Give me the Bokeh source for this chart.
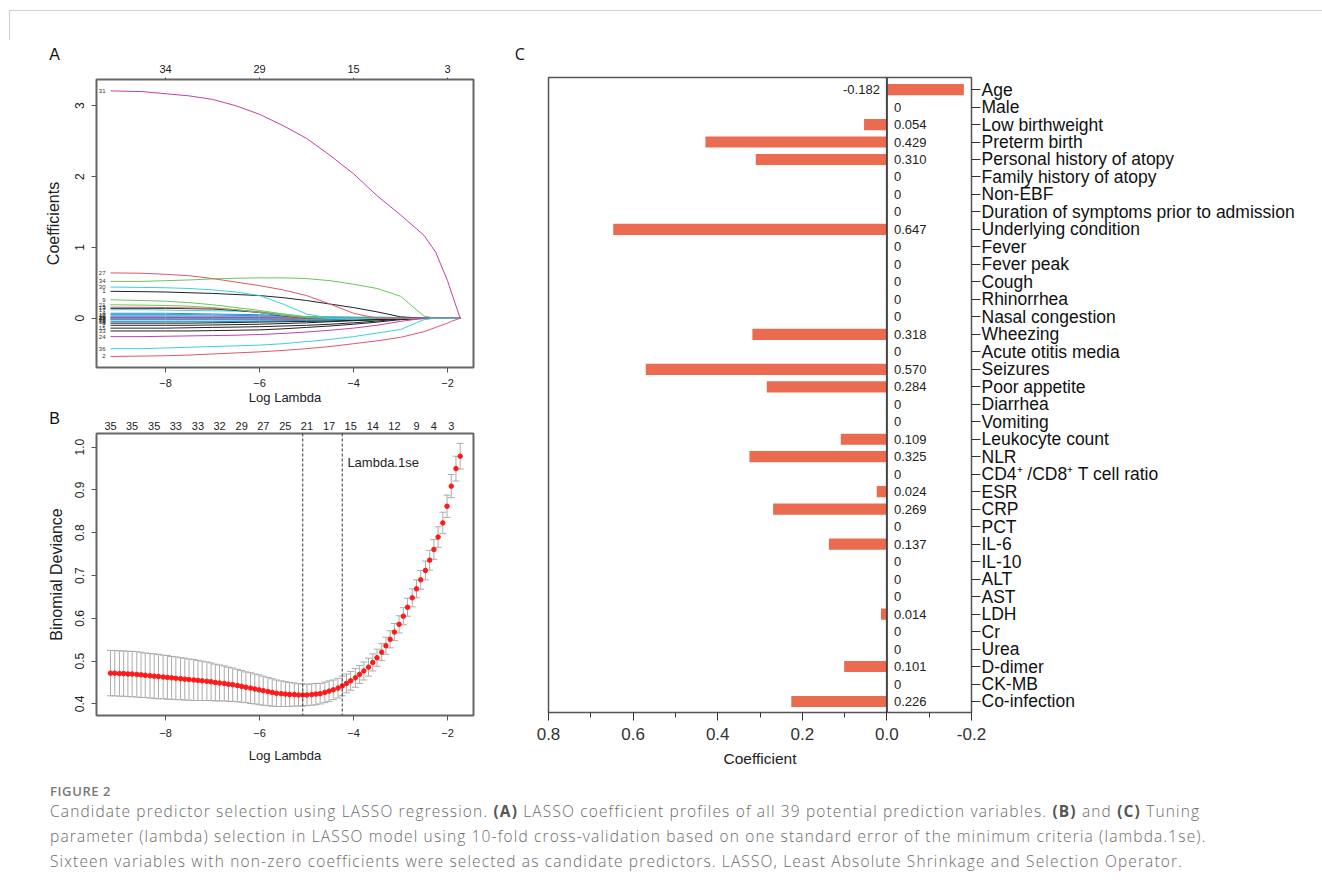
import math
from bokeh.plotting import figure
from bokeh.models import (Range1d, LinearAxis, FixedTicker, Span, Label, Whisker,
                          TeeHead, ColumnDataSource, Div, NumeralTickFormatter)
from bokeh.layouts import column, row
from bokeh.embed import file_html
from bokeh.resources import INLINE
from bokeh.core.properties import value

FONT = "Liberation Sans"

# ---------------- Panel A : LASSO coefficient profiles ----------------
A_log_lambda = [-9.17, -8.5, -8.0, -7.5, -7.0, -6.5, -6.0, -5.5, -5.0, -4.5,
                -4.0, -3.5, -3.0, -2.5, -2.25, -2.0, -1.9, -1.73]
A_x_ticks = [-8, -6, -4, -2]
A_x_labels = ["\u22128", "\u22126", "\u22124", "\u22122"]
A_top_labels = ["34", "29", "15", "3"]
A_y_ticks = [0, 1, 2, 3]

coef_19 = [0, 0, 0, 0, 0, 0, 0, 0, 0, 0, 0, 0, 0, 0, 0, 0, 0, 0]
coef_23 = [0, 0, 0, 0, 0, 0, 0, 0, 0, 0, 0, 0, 0, 0, 0, 0, 0, 0]
coef_16 = [0.02, 0.02, 0.02, 0.02, 0.02, 0.02, 0.02, 0.02, 0.02, 0.02, 0.015, 0.015, 0.01, 0.005, 0, 0, 0, 0]
coef_22 = [0.01, 0.01, 0.01, 0.01, 0.01, 0.01, 0.01, 0.01, 0.005, 0, 0, 0, 0, 0, 0, 0, 0, 0]
coef_3 = [-0.01, -0.01, -0.01, -0.01, -0.01, -0.01, -0.01, -0.005, 0, 0, 0, 0, 0, 0, 0, 0, 0, 0]
coef_28 = [-0.02, -0.02, -0.02, -0.02, -0.02, -0.02, -0.02, -0.02, -0.015, -0.015, -0.01, -0.01, -0.005, 0, 0, 0, 0, 0]
coef_35 = [-0.04, -0.04, -0.04, -0.04, -0.04, -0.04, -0.04, -0.035, -0.035, -0.03, -0.03, -0.025, -0.02, -0.01, 0, 0, 0, 0]
coef_14 = [-0.05, -0.05, -0.05, -0.05, -0.05, -0.045, -0.04, -0.035, -0.03, -0.02, -0.01, 0, 0, 0, 0, 0, 0, 0]
coef_11 = [0.035, 0.035, 0.035, 0.035, 0.03, 0.03, 0.025, 0.02, 0.02, 0.015, 0.01, 0.005, 0, 0, 0, 0, 0, 0]
coef_10 = [0.05, 0.05, 0.05, 0.05, 0.045, 0.04, 0.035, 0.03, 0.02, 0.01, 0, 0, 0, 0, 0, 0, 0, 0]
coef_4 = [0.07, 0.07, 0.07, 0.065, 0.06, 0.055, 0.05, 0.035, 0.015, 0, 0, 0, 0, 0, 0, 0, 0, 0]
coef_8 = [-0.07, -0.07, -0.07, -0.07, -0.065, -0.06, -0.055, -0.05, -0.045, -0.04, -0.03, -0.02, -0.01, 0, 0, 0, 0, 0]
coef_7 = [-0.10, -0.10, -0.10, -0.10, -0.095, -0.09, -0.085, -0.075, -0.065, -0.05, -0.035, -0.02, 0, 0, 0, 0, 0, 0]
coef_15 = [-0.14, -0.14, -0.14, -0.135, -0.13, -0.125, -0.12, -0.11, -0.10, -0.085, -0.065, -0.04, -0.01, 0, 0, 0, 0, 0]
coef_33 = [-0.18, -0.18, -0.18, -0.18, -0.175, -0.17, -0.165, -0.15, -0.13, -0.11, -0.085, -0.055, -0.02, 0, 0, 0, 0, 0]
coef_17 = [0.12, 0.12, 0.115, 0.11, 0.105, 0.10, 0.09, 0.06, 0.02, 0, 0, 0, 0, 0, 0, 0, 0, 0]
coef_13 = [0.14, 0.14, 0.14, 0.135, 0.13, 0.11, 0.08, 0.035, 0, 0, 0, 0, 0, 0, 0, 0, 0, 0]
coef_5 = [0.155, 0.155, 0.15, 0.145, 0.14, 0.12, 0.09, 0.04, 0, 0, 0, 0, 0, 0, 0, 0, 0, 0]
coef_21 = [0.19, 0.185, 0.18, 0.17, 0.15, 0.12, 0.08, 0.04, 0.01, 0, 0, 0, 0, 0, 0, 0, 0, 0]
coef_9 = [0.26, 0.25, 0.24, 0.22, 0.19, 0.15, 0.11, 0.06, 0.02, 0, 0, 0, 0, 0, 0, 0, 0, 0]
coef_1 = [0.38, 0.375, 0.37, 0.36, 0.35, 0.335, 0.32, 0.29, 0.25, 0.20, 0.15, 0.09, 0.02, 0, 0, 0, 0, 0]
coef_30 = [0.44, 0.435, 0.43, 0.42, 0.40, 0.37, 0.32, 0.20, 0.06, 0, 0, 0, 0, 0, 0, 0, 0, 0]
coef_34 = [0.52, 0.52, 0.53, 0.54, 0.555, 0.565, 0.57, 0.57, 0.56, 0.53, 0.48, 0.42, 0.31, 0.03, 0, 0, 0, 0]
coef_27 = [0.64, 0.635, 0.62, 0.60, 0.56, 0.51, 0.46, 0.40, 0.32, 0.20, 0.07, 0, 0, 0, 0, 0, 0, 0]
coef_24 = [-0.26, -0.26, -0.255, -0.25, -0.245, -0.24, -0.23, -0.215, -0.195, -0.17, -0.14, -0.10, -0.045, 0, 0, 0, 0, 0]
coef_36 = [-0.43, -0.43, -0.42, -0.41, -0.40, -0.39, -0.38, -0.36, -0.33, -0.30, -0.26, -0.21, -0.16, -0.02, 0, 0, 0, 0]
coef_2 = [-0.54, -0.535, -0.53, -0.52, -0.505, -0.49, -0.475, -0.455, -0.43, -0.40, -0.36, -0.32, -0.27, -0.19, -0.13, -0.07, -0.04, 0]
coef_31 = [3.21, 3.20, 3.17, 3.14, 3.09, 3.00, 2.88, 2.72, 2.54, 2.30, 2.04, 1.73, 1.46, 1.17, 0.93, 0.53, 0.33, 0.0]

BLACK, RED, GREEN, BLUE, CYAN, MAGENTA = "#222222", "#E0566E", "#6CC55A", "#2E8FD8", "#3CCFE0", "#C63FA8"
A_paths = [
    ("19", BLUE, coef_19), ("23", CYAN, coef_23), ("16", BLUE, coef_16), ("22", MAGENTA, coef_22),
    ("3", RED, coef_3), ("28", BLUE, coef_28), ("35", CYAN, coef_35), ("14", BLUE, coef_14),
    ("11", CYAN, coef_11), ("10", BLUE, coef_10), ("4", BLUE, coef_4), ("8", BLACK, coef_8),
    ("7", BLACK, coef_7), ("15", BLACK, coef_15), ("33", BLACK, coef_33), ("17", CYAN, coef_17),
    ("13", BLACK, coef_13), ("5", RED, coef_5), ("21", GREEN, coef_21), ("9", GREEN, coef_9),
    ("1", BLACK, coef_1), ("30", CYAN, coef_30), ("34", GREEN, coef_34), ("27", RED, coef_27),
    ("24", MAGENTA, coef_24), ("36", CYAN, coef_36), ("2", RED, coef_2), ("31", MAGENTA, coef_31),
]

# ---------------- Panel B : cross-validation curve ----------------
B_log_lambda = [-9.17, -9.08, -8.98, -8.89, -8.80, -8.71, -8.61, -8.52, -8.43, -8.33,
                -8.24, -8.15, -8.05, -7.96, -7.87, -7.78, -7.68, -7.59, -7.50, -7.40,
                -7.31, -7.22, -7.12, -7.03, -6.94, -6.85, -6.75, -6.66, -6.57, -6.47,
                -6.38, -6.29, -6.19, -6.10, -6.01, -5.92, -5.82, -5.73, -5.64, -5.54,
                -5.45, -5.36, -5.26, -5.17, -5.08, -4.99, -4.89, -4.80, -4.71, -4.61,
                -4.52, -4.43, -4.33, -4.24, -4.15, -4.06, -3.96, -3.87, -3.78, -3.68,
                -3.59, -3.50, -3.40, -3.31, -3.22, -3.13, -3.03, -2.94, -2.85, -2.75,
                -2.66, -2.57, -2.47, -2.38, -2.29, -2.20, -2.10, -2.01, -1.92, -1.82, -1.73]
B_deviance = [0.472, 0.472, 0.471, 0.471, 0.470, 0.470, 0.469, 0.468, 0.467, 0.466,
              0.465, 0.464, 0.463, 0.462, 0.461, 0.460, 0.459, 0.458, 0.457, 0.456,
              0.455, 0.454, 0.453, 0.452, 0.450, 0.449, 0.448, 0.446, 0.445, 0.443,
              0.441, 0.439, 0.437, 0.435, 0.433, 0.431, 0.429, 0.427, 0.425, 0.424,
              0.423, 0.422, 0.422, 0.421, 0.421, 0.421, 0.422, 0.423, 0.424, 0.427,
              0.430, 0.433, 0.437, 0.442, 0.448, 0.454, 0.461, 0.469, 0.477, 0.486,
              0.497, 0.508, 0.521, 0.536, 0.551, 0.568, 0.586, 0.605, 0.626, 0.648,
              0.669, 0.690, 0.712, 0.736, 0.761, 0.790, 0.823, 0.862, 0.909, 0.950, 0.979]
B_se = [0.053, 0.053, 0.053, 0.053, 0.053, 0.053, 0.053, 0.053, 0.052, 0.052, 0.052, 0.052,
        0.051, 0.051, 0.050, 0.050, 0.049, 0.049, 0.048, 0.048, 0.047, 0.046, 0.045, 0.044,
        0.043, 0.042, 0.041, 0.040, 0.039, 0.038, 0.037, 0.036, 0.036, 0.035, 0.035, 0.034,
        0.033, 0.032, 0.031, 0.030, 0.029, 0.028, 0.027, 0.026, 0.026, 0.025, 0.025, 0.025,
        0.024, 0.024, 0.024, 0.023, 0.023, 0.023, 0.022, 0.022, 0.022, 0.021, 0.021, 0.021,
        0.020, 0.020, 0.020, 0.020, 0.020, 0.020, 0.020, 0.020, 0.021, 0.021, 0.021, 0.022,
        0.022, 0.023, 0.023, 0.024, 0.025, 0.026, 0.027, 0.029, 0.030]
B_top_ticks = [-9.17, -8.71, -8.24, -7.78, -7.31, -6.85, -6.38, -5.92, -5.45, -4.99,
               -4.52, -4.06, -3.59, -3.13, -2.66, -2.29, -1.92]
B_top_labels = ["35", "35", "35", "33", "33", "32", "29", "27", "25", "21",
                "17", "15", "14", "12", "9", "4", "3"]
B_y_ticks = [0.4, 0.5, 0.6, 0.7, 0.8, 0.9, 1.0]
lambda_min = -5.08
lambda_1se = -4.24

# ---------------- Panel C : coefficients ----------------
C_variables = ["Age", "Male", "Low birthweight", "Preterm birth", "Personal history of atopy",
               "Family history of atopy", "Non-EBF", "Duration of symptoms prior to admission",
               "Underlying condition", "Fever", "Fever peak", "Cough", "Rhinorrhea",
               "Nasal congestion", "Wheezing", "Acute otitis media", "Seizures", "Poor appetite",
               "Diarrhea", "Vomiting", "Leukocyte count", "NLR",
               "CD4\u207A /CD8\u207A T cell ratio", "ESR", "CRP", "PCT", "IL-6", "IL-10", "ALT",
               "AST", "LDH", "Cr", "Urea", "D-dimer", "CK-MB", "Co-infection"]
C_coefficients = [-0.182, 0, 0.054, 0.429, 0.310, 0, 0, 0, 0.647, 0, 0, 0, 0, 0, 0.318, 0,
                  0.570, 0.284, 0, 0, 0.109, 0.325, 0, 0.024, 0.269, 0, 0.137, 0, 0, 0,
                  0.014, 0, 0, 0.101, 0, 0.226]
C_x_ticks = [0.8, 0.6, 0.4, 0.2, 0.0, -0.2]
C_x_minor = [0.7, 0.5, 0.3, 0.1, -0.1]
BAR = "#EB6B50"
FRAME = "#666666"


def style_axis(ax, size="11px", title_size="13px"):
    ax.axis_line_color = None
    ax.major_tick_line_color = "#555555"
    ax.major_tick_in = 0
    ax.major_tick_out = 5
    ax.minor_tick_line_color = None
    ax.major_label_text_font = FONT
    ax.major_label_text_font_size = size
    ax.major_label_text_color = "#222222"
    ax.axis_label_text_font = FONT
    ax.axis_label_text_font_style = "normal"
    ax.axis_label_text_font_size = title_size
    ax.axis_label_text_color = "#222222"


def letter(p, x, y, t, font=FONT):
    p.add_layout(Label(x=x, y=y, text=t, text_align="center", text_baseline="middle",
                       text_font=font, text_font_size="16px", text_color="#111111"), "left")


# ----- Figure A -----
pA = figure(width=500, height=367, title=None, output_backend="svg", toolbar_location=None,
            x_range=Range1d(-9.468, -1.447), y_range=Range1d(-0.696, 3.371),
            min_border_left=96, min_border_right=27, min_border_top=39, min_border_bottom=40)
pA.grid.visible = False
pA.outline_line_color = FRAME
pA.outline_line_width = 2
xa = pA.xaxis[0]
style_axis(xa, "11px", "13px")
xa.ticker = FixedTicker(ticks=A_x_ticks)
xa.major_label_overrides = dict(zip(A_x_ticks, A_x_labels))
xa.major_label_standoff = 6
xa.axis_label = "Log Lambda"
xa.axis_label_standoff = 0
ya = pA.yaxis[0]
style_axis(ya, "12px", "16px")
ya.ticker = FixedTicker(ticks=A_y_ticks)
ya.major_label_orientation = "vertical"
ya.major_label_standoff = 7
ya.axis_label = "Coefficients"
ya.axis_label_standoff = 11
topA = LinearAxis(ticker=FixedTicker(ticks=A_x_ticks),
                  major_label_overrides=dict(zip(A_x_ticks, A_top_labels)))
style_axis(topA, "11px")
topA.major_tick_out = 2
topA.major_label_standoff = 5
pA.add_layout(topA, "above")

for lbl, col, vals in A_paths:
    pA.line(A_log_lambda, vals, line_color=col, line_width=1)
pA.text(x=[A_log_lambda[0]] * len(A_paths), y=[v[0] for _, _, v in A_paths],
        text=[lbl for lbl, _, _ in A_paths], text_align="right", text_baseline="middle",
        x_offset=-5, text_font_size="6px", text_font=value(FONT), text_color="#333333")
letter(pA, -10.36, 3.73, "A")

# ----- Figure B -----
pB = figure(width=500, height=368, title=None, output_backend="svg", toolbar_location=None,
            x_range=Range1d(-9.468, -1.447), y_range=Range1d(0.373, 1.032),
            min_border_left=96, min_border_right=27, min_border_top=26, min_border_bottom=60)
pB.grid.visible = False
pB.outline_line_color = FRAME
pB.outline_line_width = 2
xb = pB.xaxis[0]
style_axis(xb, "11px", "13px")
xb.ticker = FixedTicker(ticks=A_x_ticks)
xb.major_label_overrides = dict(zip(A_x_ticks, A_x_labels))
xb.major_label_standoff = 8
xb.axis_label = "Log Lambda"
xb.axis_label_standoff = 8
yb = pB.yaxis[0]
style_axis(yb, "12px", "16px")
yb.ticker = FixedTicker(ticks=B_y_ticks)
yb.formatter = NumeralTickFormatter(format="0.0")
yb.major_label_orientation = "vertical"
yb.major_label_standoff = 7
yb.axis_label = "Binomial Deviance"
yb.axis_label_standoff = 8
topB = LinearAxis(ticker=FixedTicker(ticks=B_top_ticks),
                  major_label_overrides=dict(zip(B_top_ticks, B_top_labels)))
style_axis(topB, "11px")
topB.major_tick_out = 0
topB.major_tick_line_color = None
topB.major_label_standoff = 4
pB.add_layout(topB, "above")

srcB = ColumnDataSource(dict(
    x=B_log_lambda, y=B_deviance,
    lower=[d - s for d, s in zip(B_deviance, B_se)],
    upper=[d + s for d, s in zip(B_deviance, B_se)]))
GREY = "#ababab"
pB.add_layout(Whisker(source=srcB, base="x", lower="lower", upper="upper", dimension="height",
                      line_color=GREY, line_width=1,
                      lower_head=TeeHead(size=7, line_color=GREY, line_width=1),
                      upper_head=TeeHead(size=7, line_color=GREY, line_width=1)))
pB.scatter("x", "y", source=srcB, size=4.5, fill_color="#FF1A1A", line_color="#FF1A1A")
for loc in (lambda_min, lambda_1se):
    pB.add_layout(Span(location=loc, dimension="height", line_color="#333333",
                       line_width=1, line_dash="3 2"))
pB.add_layout(Label(x=-4.13, y=0.964, text="Lambda.1se", text_baseline="middle",
                    text_align="left", text_font=FONT, text_font_size="13px",
                    text_color="#222222"))
letter(pB, -10.36, 1.067, "B")

# ----- Figure C -----
C_index = list(range(len(C_variables)))
pC = figure(width=822, height=735, title=None, output_backend="svg", toolbar_location=None,
            x_range=Range1d(0.8, -0.2), y_range=Range1d(35.63, -0.69), y_axis_location="right",
            min_border_left=48, min_border_right=351, min_border_top=37, min_border_bottom=63)
pC.grid.visible = False
pC.outline_line_color = "#555555"
pC.outline_line_width = 1.5
pC.hbar(y=C_index, left=0, right=C_coefficients, height=0.64, fill_color=BAR, line_color=None)
pC.add_layout(Span(location=0, dimension="height", line_color="#444444", line_width=2))

pos_i = [i for i, v in enumerate(C_coefficients) if v >= 0]
neg_i = [i for i, v in enumerate(C_coefficients) if v < 0]
def fmt(v):
    return "0" if v == 0 else f"{v:.3f}"
pC.text(x=[0] * len(pos_i), y=pos_i, text=[fmt(C_coefficients[i]) for i in pos_i],
        x_offset=7, text_align="left", text_baseline="middle", text_font_size="13px",
        text_font=value(FONT), text_color="#222222")
pC.text(x=[0] * len(neg_i), y=neg_i, text=[fmt(C_coefficients[i]) for i in neg_i],
        x_offset=-7, text_align="right", text_baseline="middle", text_font_size="13px",
        text_font=value(FONT), text_color="#222222")

yc = pC.yaxis[0]
style_axis(yc, "17.5px")
yc.ticker = FixedTicker(ticks=C_index)
yc.major_label_overrides = dict(zip(C_index, C_variables))
yc.major_tick_out = 9
yc.major_tick_line_color = "#333333"
yc.major_label_standoff = 1
yc.major_label_text_color = "#111111"
xc = pC.xaxis[0]
style_axis(xc, "17px", "15.5px")
xc.ticker = FixedTicker(ticks=C_x_ticks, minor_ticks=C_x_minor)
xc.formatter = NumeralTickFormatter(format="0.0")
xc.major_tick_out = 8
xc.major_tick_line_color = "#333333"
xc.minor_tick_line_color = "#333333"
xc.minor_tick_out = 5
xc.minor_tick_in = 0
xc.major_label_standoff = 7
xc.major_label_text_color = "#333333"
xc.axis_label = "Coefficient"
xc.axis_label_standoff = 7
letter(pC, 0.868, -2.03, "C", "Open Sans")

# ----- page -----
top = Div(text='<div style="margin-left:9px;margin-top:10px;width:1313px;height:30px;'
               'border-top:1px solid #cfcfcf;border-left:1px solid #cfcfcf"></div>',
          width=1322, height=40, margin=(0, 0, 0, 0))
caption_html = (
    '<div style="font-family:\'Open Sans\',sans-serif;color:#6a6a6a;padding-left:50px;white-space:nowrap;">'
    '<div style="font-size:13px;line-height:13px;margin-top:10px;color:#777777;font-weight:600;'
    'letter-spacing:0.6px;">FIGURE 2</div>'
    '<div style="font-size:15.5px;line-height:25px;margin-top:1px;font-weight:300;letter-spacing:1.15px;">'
    'Candidate predictor selection using LASSO regression. <b style="color:#555;font-weight:700">(A)</b> LASSO coefficient '
    'profiles of all 39 potential prediction variables. <b style="color:#555;font-weight:700">(B)</b> and '
    '<b style="color:#555;font-weight:700">(C)</b> Tuning<br>'
    'parameter (lambda) selection in LASSO model using 10-fold cross-validation based on one standard '
    'error of the minimum criteria (lambda.1se).<br>'
    'Sixteen variables with non-zero coefficients were selected as candidate predictors. LASSO, Least '
    'Absolute Shrinkage and Selection Operator.</div></div>')
cap = Div(text=caption_html, width=1322, height=112, margin=(0, 0, 0, 0))

layout = column(top, row(column(pA, pB), pC), cap)
open("out.html", "w").write(file_html(layout, INLINE))
